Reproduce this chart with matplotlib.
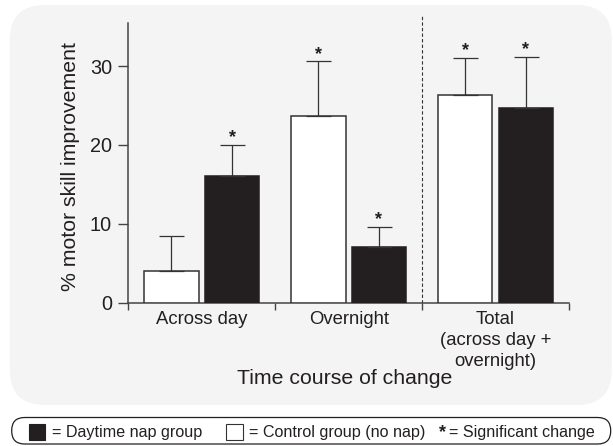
import matplotlib
matplotlib.use("Agg")
import matplotlib.pyplot as plt
from matplotlib.patches import FancyBboxPatch, Rectangle
import numpy as np

plt.rcParams["font.family"] = ["Liberation Sans", "DejaVu Sans"]

# data
groups = ["Across day", "Overnight", "Total\n(across day +\novernight)"]
control_mean = [4.0, 23.7, 26.4]
control_err = [4.5, 6.9, 4.7]
nap_mean = [16.0, 7.1, 24.7]
nap_err = [4.0, 2.45, 6.5]
control_sig = [False, True, True]
nap_sig = [True, True, True]
yticks = [0, 10, 20, 30]

DARK = "#231f20"
EDGE = "#333333"
W, H = 613, 446

fig = plt.figure(figsize=(W / 100, H / 100), dpi=100)

# light grey rounded panel behind the plot
fig.add_artist(FancyBboxPatch((0.098, 0.41), 6.02, 4.0,
                              boxstyle="round,pad=0,rounding_size=0.35",
                              transform=fig.dpi_scale_trans,
                              fc="#f4f4f4", ec="none", zorder=0))

ax = fig.add_axes([128.3 / W, 1 - 302.5 / H, (569 - 128.3) / W, (302.5 - 15) / H])
ax.set_facecolor("none")

x = np.arange(len(groups)) + 0.5
off, width = 0.206, 0.37
ax.bar(x - off, control_mean, width, color="white", edgecolor=EDGE, linewidth=1.1,
       yerr=[np.zeros(3), control_err],
       error_kw=dict(ecolor=EDGE, elinewidth=0.9, capsize=9, capthick=0.9), zorder=3)
ax.bar(x + off, nap_mean, width, color=DARK, edgecolor=DARK, linewidth=1.1,
       yerr=[np.zeros(3), nap_err],
       error_kw=dict(ecolor=EDGE, elinewidth=0.9, capsize=9, capthick=0.9), zorder=3)

for xs, means, errs, sig in ((x - off, control_mean, control_err, control_sig),
                             (x + off, nap_mean, nap_err, nap_sig)):
    for xi, m, e, s in zip(xs, means, errs, sig):
        if s:
            ax.annotate("*", xy=(xi, m + e), xytext=(0, 2), textcoords="offset points",
                        ha="center", va="baseline", fontsize=13, fontweight="bold",
                        color=DARK)

ax.axvline(2, color=EDGE, lw=0.8, ls=(0, (3, 2)), clip_on=False, zorder=2)

ax.set_xlim(0, 3)
ax.set_ylim(0, 36.5)
for side in ("top", "right"):
    ax.spines[side].set_visible(False)
for side in ("left", "bottom"):
    ax.spines[side].set_color("#444444")
    ax.spines[side].set_linewidth(1.1)
ax.spines["left"].set_bounds(0, 35.5)

ax.set_yticks(yticks)
ax.tick_params(axis="y", labelsize=14.3, length=7.2, width=1, pad=4.5,
               color="#444444", labelcolor=DARK)
ax.set_xticks([0, 1, 2, 3])
ax.set_xticklabels([])
ax.tick_params(axis="x", which="major", length=5, width=1, color="#444444")
ax.set_xticks(x, groups, minor=True)
ax.tick_params(axis="x", which="minor", length=0, pad=6.0, labelsize=13.3,
               labelcolor=DARK)
for lbl in ax.get_xticklabels(minor=True):
    lbl.set_linespacing(1.32)

ax.text((70.4 - 128.3) / 440.7, (302.5 - 166.7) / 287.5, "% motor skill improvement",
        transform=ax.transAxes, rotation=90, ha="center", va="center",
        fontsize=15.3, color=DARK)
ax.text((345 - 128.3) / 440.7, (302.5 - 384) / 287.5, "Time course of change",
        transform=ax.transAxes, ha="center", va="baseline", fontsize=15.3, color=DARK)

# key strip at the bottom
fig.add_artist(FancyBboxPatch((0.117, 0.02), 5.99, 0.265,
                              boxstyle="round,pad=0,rounding_size=0.13",
                              transform=fig.dpi_scale_trans,
                              fc="white", ec=DARK, lw=0.9, zorder=1))
fig.add_artist(Rectangle((0.293, 0.06), 0.16, 0.16, transform=fig.dpi_scale_trans,
                         fc=DARK, ec=DARK, lw=0.8, zorder=2))
fig.add_artist(Rectangle((2.26, 0.06), 0.167, 0.16, transform=fig.dpi_scale_trans,
                         fc="white", ec=EDGE, lw=0.8, zorder=2))
base_y = 1 - 437.5 / H
fig.text(51.7 / W, base_y, "= Daytime nap group", fontsize=11.6, va="baseline", color=DARK)
fig.text(249.3 / W, base_y, "= Control group (no nap)", fontsize=11.6, va="baseline", color=DARK)
fig.text(442.2 / W, base_y, "*", fontsize=13, fontweight="bold", ha="center",
         va="baseline", color=DARK)
fig.text(449 / W, base_y, "= Significant change", fontsize=11.6, va="baseline", color=DARK)

fig.savefig("out.png", dpi=100, facecolor="white")
